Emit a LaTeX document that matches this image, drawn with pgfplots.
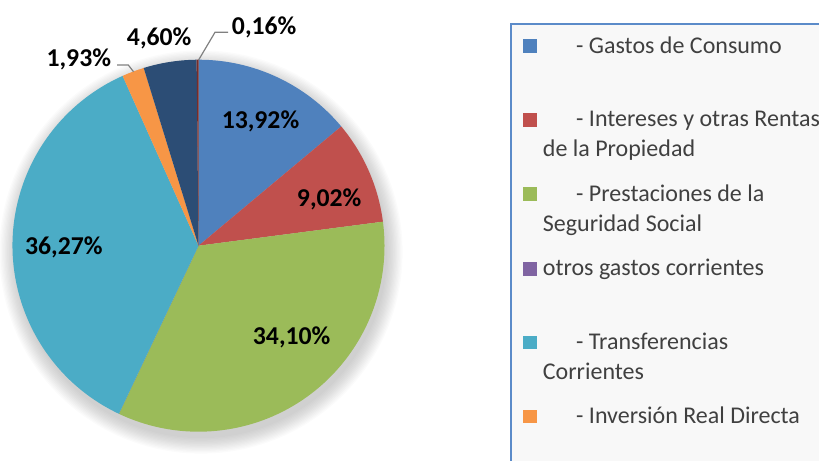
\documentclass[border=0pt]{standalone}
\usepackage{pgfplots}
\usepackage{pgfplotstable}
\pgfplotsset{compat=1.18}
\usepackage{fontspec}
\setmainfont{Carlito}
\definecolor{cGasto}{HTML}{4F81BD}
\definecolor{cInt}{HTML}{C0504D}
\definecolor{cPrest}{HTML}{9BBB59}
\definecolor{cOtros}{HTML}{8064A2}
\definecolor{cTrans}{HTML}{4BACC6}
\definecolor{cInv}{HTML}{F79646}
\definecolor{cDB}{HTML}{2C4D75}
\definecolor{cDR}{HTML}{772C2A}
\definecolor{legbg}{HTML}{F8F8F8}
\definecolor{legborder}{HTML}{5B8BC9}
\definecolor{legtext}{HTML}{404040}
\definecolor{leader}{HTML}{808080}

\pgfplotstableread{
share colour
13.92 cGasto
9.02 cInt
34.10 cPrest
0 cOtros
36.27 cTrans
1.93 cInv
4.60 cDB
0.16 cDR
}\piedata

\newcommand\labfont{\fontsize{25.7bp}{30bp}\selectfont\bfseries}
\newcommand\legfont{\fontsize{24bp}{29bp}\selectfont\color{legtext}}

\begin{document}
\begin{tikzpicture}
\begin{axis}[
  hide axis, at={(0,0)}, anchor=south west,
  x=1bp, y=1bp, xmin=0, xmax=819, ymin=0, ymax=461,
  y dir=reverse, clip=true,
]
\addplot[draw=none] coordinates {(0,0)};
\pgfplotsextra{
  % soft shadow
  \foreach \k in {0,...,12}{
    \fill[black, opacity=0.017] (axis cs:201,252) circle[radius={(186+1.3*\k)*1bp}];
  }
  \pgfplotstablegetrowsof{\piedata}
  \pgfmathtruncatemacro\Nrows{\pgfplotsretval-1}
  \gdef\cumshare{0}
  \foreach \i in {0,...,\Nrows}{
    \pgfplotstablegetelem{\i}{share}\of\piedata \let\sliceval\pgfplotsretval
    \pgfplotstablegetelem{\i}{colour}\of\piedata \let\slicecol\pgfplotsretval
    \pgfmathsetmacro\angA{90-3.6*\cumshare}
    \pgfmathsetmacro\angB{90-3.6*(\cumshare+\sliceval)}
    \fill[fill=\slicecol] (axis cs:198.5,245.7) -- ++(\angA:186bp)
       arc[start angle=\angA, end angle=\angB, radius=186bp] -- cycle;
    \pgfmathsetmacro\newcum{\cumshare+\sliceval}
    \global\let\cumshare\newcum
  }
  % leader lines
  \draw[leader, line width=1.2bp] (axis cs:117,65) -- (axis cs:128.3,65) -- (axis cs:133.5,71.7);
  \draw[leader, line width=1.2bp] (axis cs:228,32.3) -- (axis cs:215,32.3) -- (axis cs:198.6,60);
  % data labels
  \node[anchor=base, inner sep=0pt] at (axis cs:260.5,128.3) {\labfont 13,92\%};
  \node[anchor=base, inner sep=0pt] at (axis cs:329.2,206) {\labfont 9,02\%};
  \node[anchor=base, inner sep=0pt] at (axis cs:291.7,344) {\labfont 34,10\%};
  \node[anchor=base, inner sep=0pt] at (axis cs:63.8,254) {\labfont 36,27\%};
  \node[anchor=base, inner sep=0pt] at (axis cs:78.8,66) {\labfont 1,93\%};
  \node[anchor=base, inner sep=0pt] at (axis cs:159.2,45) {\labfont 4,60\%};
  \node[anchor=base, inner sep=0pt] at (axis cs:264.2,34) {\labfont 0,16\%};
  % legend box
  \filldraw[fill=legbg, draw=legborder, line width=1.5bp] (axis cs:511,24) rectangle (axis cs:840,480);
  \foreach \col/\ytop in {cGasto/39.3, cInt/113.2, cPrest/187.1, cOtros/262, cTrans/335.9, cInv/409.8}{
    \fill[\col] (axis cs:523,\ytop) rectangle (axis cs:537,{\ytop+13.5});
  }
  \node[anchor=base west, inner sep=0pt] at (axis cs:576,53.3) {\legfont - Gastos de Consumo};
  \node[anchor=base west, inner sep=0pt] at (axis cs:576,126.7) {\legfont - Intereses y otras Rentas};
  \node[anchor=base west, inner sep=0pt] at (axis cs:542.7,156.7) {\legfont de la Propiedad};
  \node[anchor=base west, inner sep=0pt] at (axis cs:576,201.7) {\legfont - Prestaciones de la};
  \node[anchor=base west, inner sep=0pt] at (axis cs:542.7,231) {\legfont Seguridad Social};
  \node[anchor=base west, inner sep=0pt] at (axis cs:542.7,275) {\legfont otros gastos corrientes};
  \node[anchor=base west, inner sep=0pt] at (axis cs:576,349) {\legfont - Transferencias};
  \node[anchor=base west, inner sep=0pt] at (axis cs:542.7,379) {\legfont Corrientes};
  \node[anchor=base west, inner sep=0pt] at (axis cs:576,423.3) {\legfont - Inversión Real Directa};
}
\end{axis}
\pgfresetboundingbox
\path[use as bounding box] (0,0) rectangle (819bp,461bp);
\end{tikzpicture}
\end{document}
